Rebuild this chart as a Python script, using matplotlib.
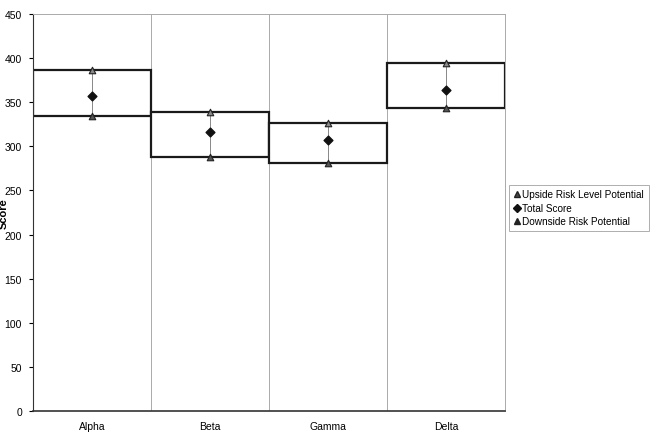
import numpy as np
import matplotlib.pyplot as plt
from matplotlib.lines import Line2D

plt.rcParams['font.family'] = ['Liberation Sans', 'DejaVu Sans']

# Data
categories = ["Alpha", "Beta", "Gamma", "Delta"]
upside = [386, 339, 327, 395]
total = [357, 316, 307, 364]
downside = [334, 288, 281, 343]

x = np.arange(len(categories))
upside = np.array(upside)
downside = np.array(downside)

fig = plt.figure(figsize=(6.51, 4.35), dpi=100)
ax = fig.add_axes([33 / 651, 23 / 435, 472 / 651, 397 / 435])

# floating boxes (up-down bars)
ax.bar(x, upside - downside, bottom=downside, width=1.0,
       facecolor="white", edgecolor="#1a1a1a", linewidth=1.6, zorder=2)

# high-low lines
ax.vlines(x, downside, upside, color="#888888", linewidth=0.7, zorder=3)

# markers
ax.scatter(x, upside, marker="^", s=22, facecolor="#8a8a8a",
           edgecolor="#222222", linewidth=0.8, zorder=4)
ax.scatter(x, downside, marker="^", s=22, facecolor="#555555",
           edgecolor="#222222", linewidth=0.8, zorder=4)
ax.scatter(x, total, marker="D", s=20, color="#111111", zorder=4)

# axes
ax.set_xlim(-0.5, len(categories) - 0.5)
ax.set_ylim(0, 450)
ax.set_yticks(np.arange(0, 451, 50))
ax.set_xticks(x)
ax.set_xticklabels(categories)
ax.set_xticks(np.arange(-0.5, len(categories), 1.0), minor=True)
ax.grid(which="minor", axis="x", color="#aaaaaa", linewidth=0.7)
ax.tick_params(axis="x", which="both", length=0, labelsize=7.5, pad=7)
ax.tick_params(axis="y", length=3, width=0.8, labelsize=7.5, pad=5)
ax.set_ylabel("Score", fontsize=8, fontweight="bold")
ax.yaxis.set_label_coords(-0.052, 0.5)

ax.spines["left"].set_color("#333333")
ax.spines["bottom"].set_color("#333333")
ax.spines["bottom"].set_linewidth(1.2)
ax.spines["top"].set_color("#aaaaaa")
ax.spines["right"].set_color("#aaaaaa")
ax.spines["top"].set_linewidth(0.7)
ax.spines["right"].set_linewidth(0.7)

handles = [
    Line2D([], [], linestyle="none", marker="^", markersize=5,
           markerfacecolor="#444444", markeredgecolor="#222222"),
    Line2D([], [], linestyle="none", marker="D", markersize=4.5,
           color="#111111"),
    Line2D([], [], linestyle="none", marker="^", markersize=5,
           markerfacecolor="#222222", markeredgecolor="#222222"),
]
labels = ["Upside Risk Level Potential", "Total Score", "Downside Risk Potential"]
leg = fig.legend(handles, labels, loc="center left",
                 bbox_to_anchor=(509 / 651, 1 - 209 / 435),
                 fontsize=7.2, frameon=True, fancybox=False,
                 handlelength=0.6, handletextpad=0.3, borderpad=0.45,
                 labelspacing=0.35, borderaxespad=0)
leg.get_frame().set_edgecolor("#999999")
leg.get_frame().set_linewidth(0.7)

fig.savefig("out.png", dpi=100)
